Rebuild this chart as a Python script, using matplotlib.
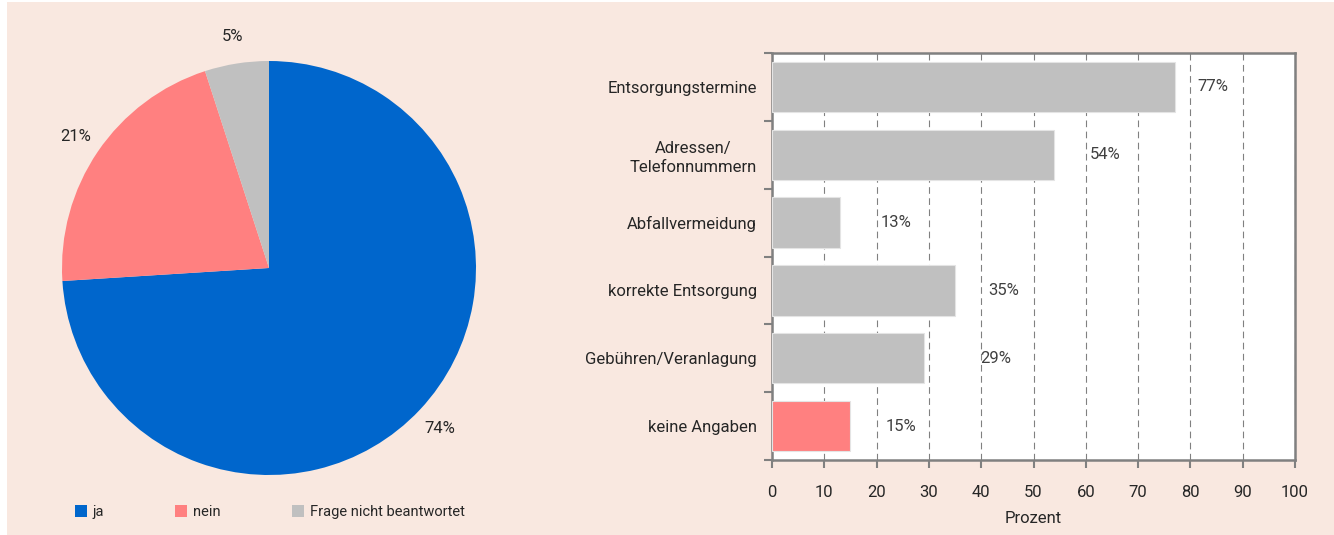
import matplotlib

matplotlib.use("Agg")
import matplotlib.pyplot as plt
from matplotlib.patches import Patch, Rectangle
import numpy as np

plt.rcParams["font.family"] = ["Roboto", "DejaVu Sans"]

# Pie: answer shares
pie_labels = ["ja", "nein", "Frage nicht beantwortet"]
pie_values = [74, 21, 5]
pie_colors = ["#0066CC", "#FF8080", "#C0C0C0"]

# Bars: topics (percent)
topics = ["Entsorgungstermine", "Adressen/\nTelefonnummern", "Abfallvermeidung",
          "korrekte Entsorgung", "Gebühren/Veranlagung", "keine Angaben"]
topic_values = [77, 54, 13, 35, 29, 15]
topic_colors = ["#C0C0C0"] * 5 + ["#FF8080"]
label_pad = [4.3, 6.8, 7.8, 6.3, 10.8, 6.8]  # gap between bar end and value label

BG = "#F9E8E0"
TXT = "#262626"
W, H = 1334, 535

fig = plt.figure(figsize=(W / 100, H / 100), dpi=100)
fig.patches.append(Rectangle((7 / W, 0), 1 - 7 / W, 1 - 2 / H, transform=fig.transFigure,
                             facecolor=BG, edgecolor="none", zorder=-10))

# --- pie ---
r = 207
ax1 = fig.add_axes([(269 - r) / W, (267 - r) / H, 2 * r / W, 2 * r / H])
ax1.pie(pie_values, colors=pie_colors, startangle=90, counterclock=False,
        autopct="%d%%", pctdistance=1.13,
        textprops={"fontsize": 12, "color": TXT},
        wedgeprops={"linewidth": 0})
ax1.set_xlim(-1, 1)
ax1.set_ylim(-1, 1)
ax1.set_aspect("equal")

handles = [Patch(facecolor=c, edgecolor="none") for c in pie_colors]
fig.legend(handles, pie_labels, loc="center left", bbox_to_anchor=(75 / W, 1 - 512 / H),
           ncol=3, frameon=False, fontsize=10.5, labelcolor=TXT,
           handlelength=0.8, handleheight=0.8, handletextpad=0.4, columnspacing=4.9,
           borderpad=0, borderaxespad=0)

# --- horizontal bars ---
ax2 = fig.add_axes([772 / W, (H - 460) / H, (1295 - 772) / W, (460 - 53) / H])
ax2.set_facecolor("white")
y = np.arange(len(topics))
ax2.barh(y, topic_values, height=0.74, color=topic_colors, edgecolor="#E4E4E4",
         linewidth=0.8, zorder=3)
for yi, v, p in zip(y, topic_values, label_pad):
    ax2.text(v + p, yi, f"{v}%", va="center", ha="left", fontsize=12, color="#404040", zorder=4)

ax2.set_xlim(0, 100)
ax2.set_ylim(len(topics) - 0.5, -0.5)
ax2.set_xticks(np.arange(0, 101, 10))
ax2.set_yticks(y)
ax2.set_yticklabels(topics, fontsize=12, color=TXT, linespacing=1.35, multialignment="center")
ax2.set_yticks(np.arange(-0.5, len(topics), 1), minor=True)
ax2.tick_params(axis="y", which="major", length=0, pad=11)
ax2.tick_params(axis="y", which="minor", length=6, width=1.5, color="#808080", direction="out")
ax2.tick_params(axis="x", length=6, width=1.5, color="#808080", labelsize=12,
                labelcolor=TXT, pad=12)
ax2.xaxis.grid(True, linestyle=(0, (6, 4)), color="#808080", linewidth=0.8, zorder=0)
ax2.set_axisbelow(True)
for s in ax2.spines.values():
    s.set_color("#808080")
    s.set_linewidth(1.8)
ax2.set_xlabel("Prozent", fontsize=12, color=TXT, labelpad=8)

fig.savefig("out.png", dpi=100)
